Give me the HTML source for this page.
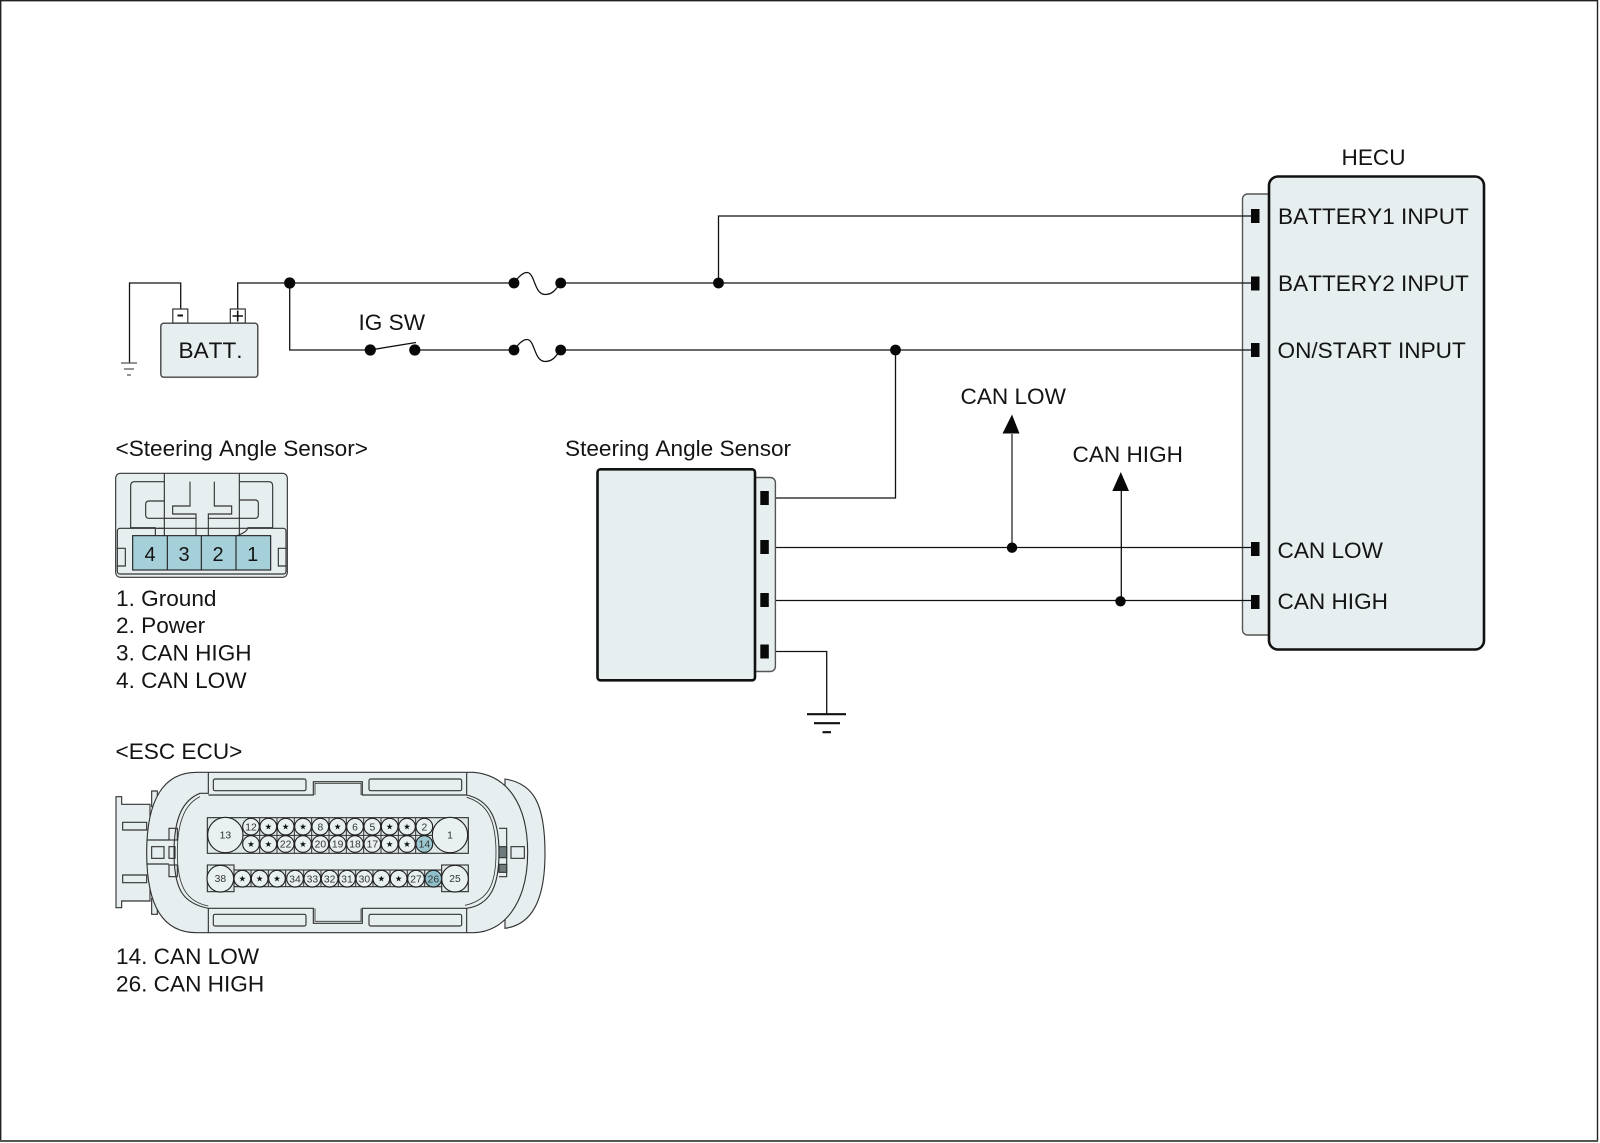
<!DOCTYPE html>
<html>
<head>
<meta charset="utf-8">
<style>
html,body{margin:0;padding:0;background:#fff;}
svg{display:block;}
text{font-family:"Liberation Sans",sans-serif;fill:#141414;font-kerning:none;}
.t{font-size:22.6px;}
.w{fill:none;stroke:#111;stroke-width:1.3;}
.b{fill:#e6eeef;stroke:#111;stroke-width:2.6;}
.tab{fill:#e6eeef;stroke:#555;stroke-width:1.4;}
.c1 path,.c1 rect,.c1 line{fill:none;stroke:#333;stroke-width:3.4;}
.p circle{fill:#e9f0f0;stroke:#222;stroke-width:3.4;}
.p text{font-size:31px;text-anchor:middle;fill:#333;}
.p .s{font-family:"DejaVu Sans",sans-serif;font-size:25px;fill:#111;}
</style>
</head>
<body>
<svg width="1600" height="1143" viewBox="0 0 1600 1143" xmlns="http://www.w3.org/2000/svg">
<rect width="1600" height="1143" fill="#fff"/>
<path d="M.7 1141V.7H1597.5V1141Z" fill="none" stroke="#222" stroke-width="1.4"/>
<line x1="0" y1="1141" x2="1598" y2="1141" stroke="#555" stroke-width="2"/>

<!-- HECU -->
<rect class="tab" x="1242.5" y="194" width="40" height="441" rx="5"/>
<rect class="b" x="1269" y="176.5" width="215" height="473" rx="9"/>
<g fill="#080808">
<rect x="1251" y="209" width="8.5" height="14"/>
<rect x="1251" y="276.5" width="8.5" height="14"/>
<rect x="1251" y="343" width="8.5" height="14"/>
<rect x="1251" y="542" width="8.5" height="14"/>
<rect x="1251" y="595" width="8.5" height="14"/>
</g>
<text class="t" x="1341.5" y="165">HECU</text>
<text class="t" x="1278" y="224">BATTERY1 INPUT</text>
<text class="t" x="1278" y="291">BATTERY2 INPUT</text>
<text class="t" x="1277.5" y="358">ON/START INPUT</text>
<text class="t" x="1277.5" y="558">CAN LOW</text>
<text class="t" x="1277.5" y="609">CAN HIGH</text>

<!-- wires -->
<path class="w" d="M718.5 283V216H1251"/>
<path class="w" d="M129.5 363V283H180.7V309"/>
<path class="w" d="M237.7 309V283H514"/>
<path class="w" d="M560.5 283H1251"/>
<path class="w" d="M289.7 283V350H370"/>
<path class="w" d="M414 350H514"/>
<path class="w" d="M560.5 350H1251"/>
<path class="w" d="M370 350L416 342.5"/>
<path class="w" d="M514 283C519 276 523 272.5 527 272.5C535 272.5 534 294.5 545 294.5C553 294.5 556 289 560.5 283"/>
<path class="w" d="M514 350C519 343 523 339.5 527 339.5C535 339.5 534 361.5 545 361.5C553 361.5 556 356 560.5 350"/>
<path class="w" d="M895.5 350V498H769"/>
<path class="w" d="M769 547.5H1251"/>
<path class="w" d="M769 600.5H1251"/>
<path class="w" d="M769 651.5H826.7V714"/>
<path d="M1012 434V548" fill="none" stroke="#666" stroke-width="1.8"/>
<path class="w" d="M1121.3 491V601"/>
<path d="M1012 414.5L1019.5 433.5H1002.5Z" fill="#080808"/>
<path d="M1120.8 472L1129 491H1112.3Z" fill="#080808"/>
<g fill="#080808">
<circle cx="289.7" cy="283" r="5.6"/>
<circle cx="514" cy="283" r="5.4"/>
<circle cx="560.7" cy="283" r="5.4"/>
<circle cx="718.5" cy="283" r="5.4"/>
<circle cx="370.3" cy="350" r="5.6"/>
<circle cx="414.8" cy="350" r="5.6"/>
<circle cx="514" cy="350" r="5.4"/>
<circle cx="560.7" cy="350" r="5.4"/>
<circle cx="895.5" cy="350" r="5.4"/>
<circle cx="1012" cy="547.7" r="5.2"/>
<circle cx="1120.5" cy="601.3" r="5.2"/>
</g>
<text class="t" x="960.5" y="404">CAN LOW</text>
<text class="t" x="1072.5" y="462">CAN HIGH</text>
<text class="t" x="358.5" y="330">IG SW</text>

<!-- battery -->
<rect x="172.8" y="309" width="15" height="14" fill="#fff" stroke="#333" stroke-width="1.2"/>
<rect x="230.3" y="309" width="15" height="14" fill="#fff" stroke="#333" stroke-width="1.2"/>
<path d="M177.5 315.5H183" stroke="#111" stroke-width="2" fill="none"/>
<path d="M232.5 316H243M237.7 310.5V321.5" stroke="#111" stroke-width="1.6" fill="none"/>
<rect x="160.8" y="323.2" width="97" height="54" rx="3" fill="#e6eeef" stroke="#444" stroke-width="1.4"/>
<text class="t" x="178.5" y="358">BATT.</text>
<g stroke="#555" fill="none" stroke-width="1.3">
<path d="M121 363H137M124 369H134M127 375H131"/>
</g>

<!-- sensor -->
<rect class="tab" x="740" y="477.5" width="35.4" height="194" rx="5"/>
<rect class="b" x="597.5" y="469.3" width="157.5" height="211" rx="3"/>
<g fill="#080808">
<rect x="760.3" y="491" width="8.5" height="14"/>
<rect x="760.3" y="540" width="8.5" height="14"/>
<rect x="760.3" y="593" width="8.5" height="14"/>
<rect x="760.3" y="644.5" width="8.5" height="14"/>
</g>
<g stroke="#111" stroke-width="2.2" fill="none">
<path d="M807 714.2H846M814 723.2H840M822.5 732.2H831"/>
</g>
<text class="t" x="565" y="456">Steering Angle Sensor</text>

<!-- left labels -->
<text class="t" x="115.5" y="456">&lt;Steering Angle Sensor&gt;</text>
<text class="t" x="116" y="606">1. Ground</text>
<text class="t" x="116" y="633">2. Power</text>
<text class="t" x="116" y="660.5">3. CAN HIGH</text>
<text class="t" x="116" y="688">4. CAN LOW</text>
<text class="t" x="115.5" y="759">&lt;ESC ECU&gt;</text>
<text class="t" x="116" y="964">14. CAN LOW</text>
<text class="t" x="116" y="991.5">26. CAN HIGH</text>

<!-- steering connector -->
<g class="c1" transform="translate(100 430) scale(.33333)">
<rect x="47" y="130" width="515" height="312" rx="14" style="fill:#e6eeef"/>
<rect x="52" y="295" width="506" height="137" rx="8"/>
<path d="M92 295V167Q92 155 104 155H193M418 155H506Q518 155 518 167V295"/>
<path d="M193 130V317M418 130V317"/>
<path d="M193 213H147Q137 213 137 223V255Q137 265 147 265H288V317M418 210H465Q475 210 475 220V255Q475 265 465 265H325V317"/>
<path d="M270 155V228H218V252H288V265M343 155V228H395V252H325V265"/>
<path d="M92 293H166V317M443 293H518M443 293Q443 305 412 317M172 295H193"/>
<path d="M50 355H76V408H50M560 355H535V408H560"/>
<rect x="98" y="317" width="414" height="103" style="fill:#a6d0d9;stroke:#222"/>
<path d="M202 317V420M304 317V420M408 317V420" style="stroke:#222"/>
</g>
<g font-size="20" text-anchor="middle">
<text x="150" y="561">4</text>
<text x="184" y="561">3</text>
<text x="218" y="561">2</text>
<text x="252.7" y="561">1</text>
</g>

<!-- ESC connector -->
<g class="c1" transform="translate(100 760) scale(.33333)">
<path d="M1215 57C1300 70 1335 130 1335 280C1335 430 1290 495 1215 505Z" style="fill:#e6eeef"/>
<path d="M150 133H65V110H48V443H65V423H150Z" style="fill:#e6eeef"/>
<path d="M155 93H172V140H155ZM155 415H172V463H155Z" style="fill:#e6eeef"/>
<path d="M290 37H1120C1220 45 1283 130 1283 278C1283 430 1210 518 1120 518H290C190 518 140 440 140 278C140 120 190 37 290 37Z" style="fill:#e6eeef"/>
<path d="M325 37V100H300C250 120 222 170 222 278C222 390 250 430 325 445H640V490H787V445H1100C1170 435 1197 380 1197 278C1197 170 1165 120 1100 105H787V65H640V105H325M325 445V518M1100 445V518M1100 37V105"/>
<path d="M300 110C260 130 232 175 232 278C232 380 260 425 325 438M1100 112C1160 130 1188 175 1188 278C1188 375 1165 420 1095 436" style="stroke-width:2.5"/>
<path d="M645 105V70H783V105M645 445V484H783V445" style="stroke-width:2.5"/>
<rect x="340" y="57" width="278" height="35" rx="5"/>
<rect x="807" y="57" width="278" height="35" rx="5"/>
<rect x="340" y="463" width="278" height="35" rx="5"/>
<rect x="807" y="463" width="278" height="35" rx="5"/>
<path d="M68 187H140V210H68ZM68 345H140V368H68Z"/>
<rect x="155" y="260" width="37" height="35"/>
<rect x="207" y="205" width="25" height="35"/>
<rect x="207" y="260" width="18" height="35"/>
<rect x="207" y="315" width="25" height="35"/>
<path d="M140 240H207M140 312H207" />
<rect x="1233" y="260" width="40" height="35"/>
<path d="M1197 205H1220V350H1197"/>
<rect x="1197" y="260" width="23" height="33" style="fill:#6e7a7c"/>
<rect x="1197" y="313" width="23" height="24" style="fill:#6e7a7c"/>
</g>

<!-- pin blocks -->
<g class="p" transform="translate(200 805) scale(.33333)">
<rect x="22" y="38" width="783" height="107" fill="#dfe8e8" stroke="#333" stroke-width="3.4"/>
<rect x="100" y="195" width="630" height="50" fill="#dfe8e8" stroke="#333" stroke-width="3.4"/>
<rect x="22" y="180" width="80" height="80" fill="#dfe8e8" stroke="#333" stroke-width="3.4"/>
<rect x="725" y="180" width="80" height="80" fill="#dfe8e8" stroke="#333" stroke-width="3.4"/>
<path d="M127 91H700M179 38V145M231 38V145M283 38V145M335 38V145M387 38V145M439 38V145M491 38V145M543 38V145M595 38V145M647 38V145" stroke="#333" stroke-width="3" fill="none"/>
<path d="M153 195V245M205 195V245M257 195V245M311 195V245M363 195V245M415 195V245M467 195V245M519 195V245M570 195V245M622 195V245M674 195V245" stroke="#333" stroke-width="3" fill="none"/>
<circle cx="76" cy="90" r="53"/><text x="76" y="100">13</text>
<circle cx="750" cy="90" r="53"/><text x="750" y="100">1</text>
<circle cx="61" cy="221" r="40"/><text x="61" y="231">38</text>
<circle cx="765" cy="221" r="40"/><text x="765" y="231">25</text>

<circle cx="153" cy="65" r="25"/><text x="153" y="76">12</text>
<circle cx="205" cy="65" r="25"/><text class="s" x="205" y="74">★</text>
<circle cx="257" cy="65" r="25"/><text class="s" x="257" y="74">★</text>
<circle cx="309" cy="65" r="25"/><text class="s" x="309" y="74">★</text>
<circle cx="361" cy="65" r="25"/><text x="361" y="76">8</text>
<circle cx="413" cy="65" r="25"/><text class="s" x="413" y="74">★</text>
<circle cx="465" cy="65" r="25"/><text x="465" y="76">6</text>
<circle cx="517" cy="65" r="25"/><text x="517" y="76">5</text>
<circle cx="569" cy="65" r="25"/><text class="s" x="569" y="74">★</text>
<circle cx="621" cy="65" r="25"/><text class="s" x="621" y="74">★</text>
<circle cx="673" cy="65" r="25"/><text x="673" y="76">2</text>

<circle cx="153" cy="117" r="25"/><text class="s" x="153" y="126">★</text>
<circle cx="205" cy="117" r="25"/><text class="s" x="205" y="126">★</text>
<circle cx="257" cy="117" r="25"/><text x="257" y="128">22</text>
<circle cx="309" cy="117" r="25"/><text class="s" x="309" y="126">★</text>
<circle cx="361" cy="117" r="25"/><text x="361" y="128">20</text>
<circle cx="413" cy="117" r="25"/><text x="413" y="128">19</text>
<circle cx="465" cy="117" r="25"/><text x="465" y="128">18</text>
<circle cx="517" cy="117" r="25"/><text x="517" y="128">17</text>
<circle cx="569" cy="117" r="25"/><text class="s" x="569" y="126">★</text>
<circle cx="621" cy="117" r="25"/><text class="s" x="621" y="126">★</text>
<circle cx="673" cy="117" r="25" style="fill:#9cc8d2"/><text x="673" y="128">14</text>

<circle cx="127" cy="221" r="25"/><text class="s" x="127" y="230">★</text>
<circle cx="179" cy="221" r="25"/><text class="s" x="179" y="230">★</text>
<circle cx="231" cy="221" r="25"/><text class="s" x="231" y="230">★</text>
<circle cx="285" cy="221" r="25"/><text x="285" y="232">34</text>
<circle cx="337" cy="221" r="25"/><text x="337" y="232">33</text>
<circle cx="389" cy="221" r="25"/><text x="389" y="232">32</text>
<circle cx="441" cy="221" r="25"/><text x="441" y="232">31</text>
<circle cx="493" cy="221" r="25"/><text x="493" y="232">30</text>
<circle cx="544" cy="221" r="25"/><text class="s" x="544" y="230">★</text>
<circle cx="596" cy="221" r="25"/><text class="s" x="596" y="230">★</text>
<circle cx="648" cy="221" r="25"/><text x="648" y="232">27</text>
<circle cx="700" cy="221" r="25" style="fill:#8fbfca"/><text x="700" y="232">26</text>
</g>
</svg>
</body>
</html>
